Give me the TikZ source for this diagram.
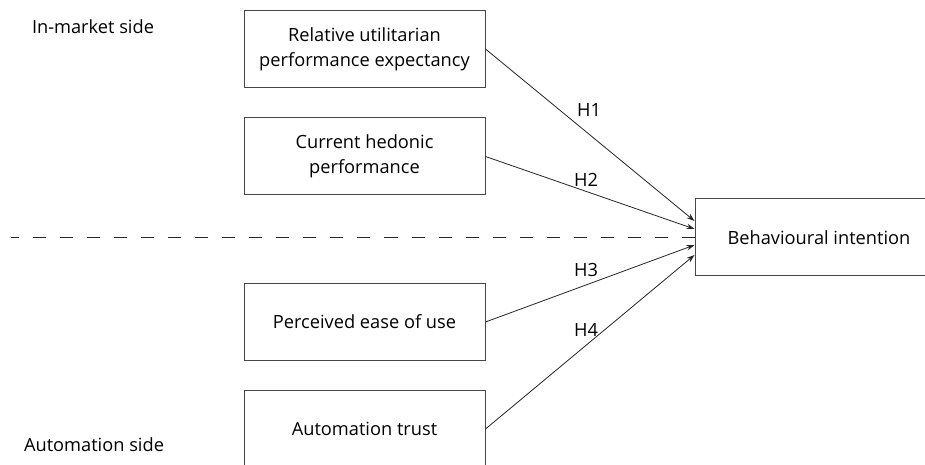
\documentclass[tikz,border=0pt]{standalone}
\usepackage{fontspec}
\setmainfont{Open Sans}
\usetikzlibrary{arrows.meta,calc}
\tikzset{
  box/.style={draw=black!72, line width=1bp, minimum width=241bp, minimum height=77bp, align=center, inner sep=2bp, font=\fontsize{18.3}{25}\selectfont},
  lbl/.style={font=\fontsize{18.3}{21}\selectfont, inner sep=0pt},
  conn/.style={draw=black!85, line width=0.8bp, -{Stealth[length=8bp,width=5.5bp]}},
  divider/.style={draw=black!85, line width=1.2bp, dash pattern=on 13bp off 14bp}
}
\begin{document}
\begin{tikzpicture}[x=1bp,y=-1bp]
\clip (0,0) rectangle (925,465);
\fill[white] (0,0) rectangle (925,465);
\node[box] (rup) at (364.5,49) {Relative utilitarian\\performance expectancy};
\node[box] (chp) at (364.5,156.5) {Current hedonic\\performance};
\node[box] (peu) at (364.5,322) {Perceived ease of use};
\node[box] (at) at (364.5,429) {Automation trust};
\node[box, minimum width=248bp] (bi) at (819,237.5) {Behavioural intention};
\node[lbl] (ims) at (93,27) {In-market side};
\node[lbl] (aus) at (94,445) {Automation side};
\coordinate (t1) at ($(bi.west)+(0,-16.5)$);
\coordinate (t2) at ($(bi.west)+(0,-8.5)$);
\coordinate (t3) at ($(bi.west)+(0,7.5)$);
\coordinate (t4) at ($(bi.west)+(0,17.5)$);
\coordinate (dl) at (11,237.5);
\draw[conn] (rup.east) -- (t1);
\draw[conn] (chp.east) -- (t2);
\draw[conn] (peu.east) -- (t3);
\draw[conn] (at.east) -- (t4);
\draw[divider] (bi.west) -- (dl);
\node[lbl] (h1) at (589,110) {H1};
\node[lbl] (h2) at (586,180) {H2};
\node[lbl] (h3) at (586,270) {H3};
\node[lbl] (h4) at (586,330) {H4};
\end{tikzpicture}
\end{document}
